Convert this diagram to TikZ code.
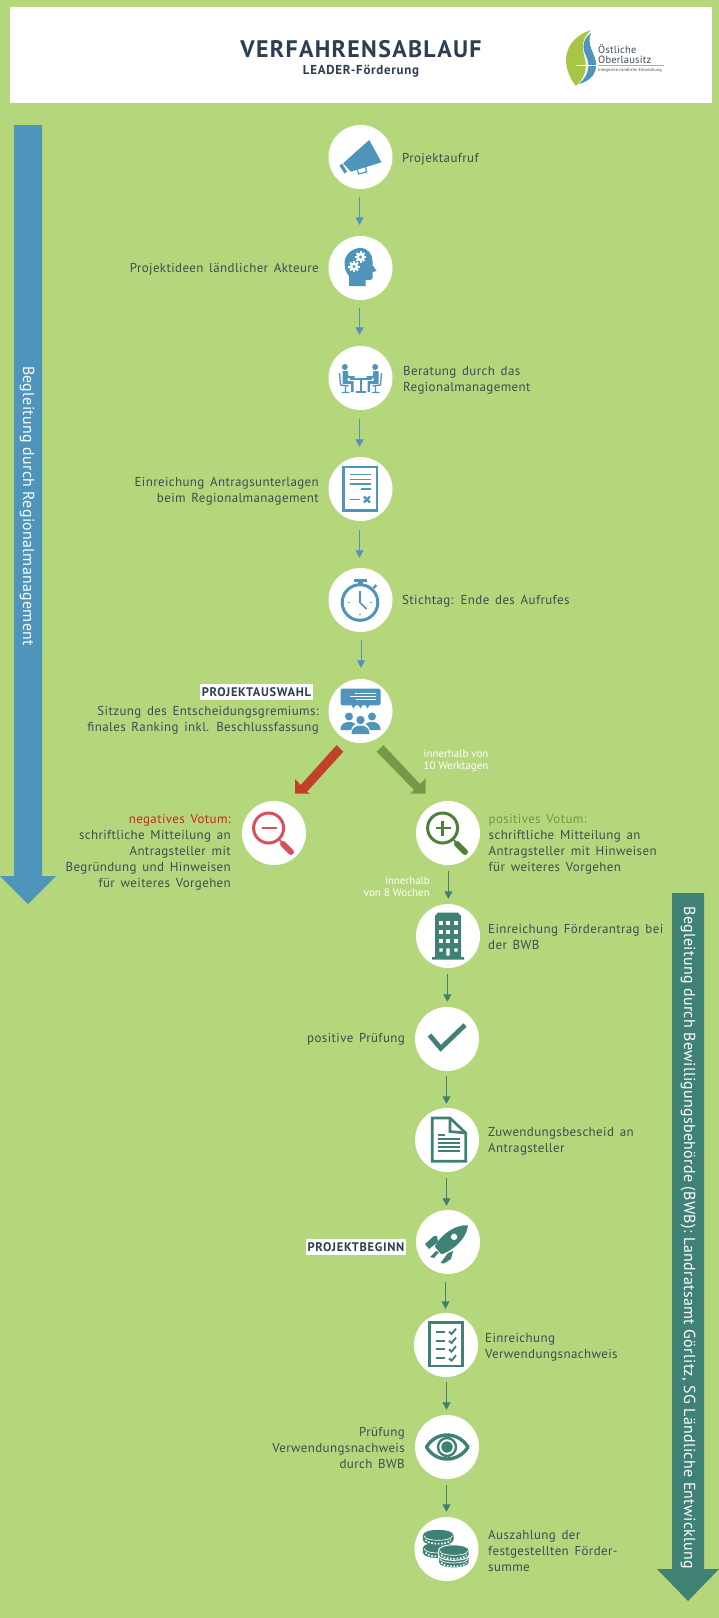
\documentclass[tikz,border=0pt]{standalone}
\usepackage{fontspec}
\setmainfont{PT Sans}
\newfontfamily\bodyf[WordSpace=1.5,LetterSpace=3]{PT Sans}
\newfontfamily\sidef[LetterSpace=2]{PT Sans}
\newfontfamily\titlef[LetterSpace=5.5]{PT Sans}
\newfontfamily\logof[LetterSpace=2]{PT Sans}
\usetikzlibrary{arrows.meta}
\definecolor{bg}{HTML}{B5D77B}
\definecolor{bluec}{HTML}{4F94BA}
\definecolor{tealc}{HTML}{3F8275}
\definecolor{txt}{HTML}{3E4B57}
\definecolor{navy}{HTML}{2C3E50}
\definecolor{redarrow}{HTML}{C0402A}
\definecolor{greenarrow}{HTML}{749A48}
\definecolor{redtxt}{HTML}{C8281E}
\definecolor{greentxt}{HTML}{6E9A45}
\definecolor{redicon}{HTML}{D9505A}
\definecolor{greenicon}{HTML}{4F7F3A}
\definecolor{leaf}{HTML}{A8C545}
\newcommand{\bodyfont}{\bodyf\fontsize{13}{16}\selectfont}
\tikzset{
  x=1bp,y=-1bp,
  circ/.style={circle,fill=white,draw=none,minimum size=64bp,inner sep=0},
  lt/.style={anchor=west,align=left,inner sep=0,text=txt,font=\bodyfont},
  rt/.style={anchor=east,align=right,inner sep=0,text=txt,font=\bodyfont},
  mark box/.style={fill=white,inner sep=0,text=navy,font=\titlef\fontsize{12.5}{14}\selectfont\bfseries,anchor=center,minimum height=16bp},
  small/.style={inner sep=0,text=white,font=\fontsize{11}{12}\selectfont,align=left},
  flowb/.style={draw=bluec,line width=1bp,-{Triangle[length=7.5bp,width=8bp]}},
  flowt/.style={draw=tealc,line width=1bp,-{Triangle[length=7.5bp,width=8bp]}},
  sidetext/.style={rotate=-90,text=white,inner sep=0,font=\sidef\fontsize{16}{18}\selectfont},
}
\newcommand{\gearat}[2]{%
  \foreach \a in {0,45,...,315}{\draw[white,line width=2bp] (#1,#2) -- ++(\a:5.6);}
  \fill[white] (#1,#2) circle[radius=4.2];
  \fill[bluec] (#1,#2) circle[radius=1.6];}
\newcommand{\coinat}[3][]{%
  \path[fill=tealc,#1] (#2-15.3,#3) .. controls (#2-15.3,#3-7.3) and (#2+15.3,#3-7.3) .. (#2+15.3,#3) -- (#2+15.3,#3+4.5) .. controls (#2+15.3,#3+11.8) and (#2-15.3,#3+11.8) .. (#2-15.3,#3+4.5) -- cycle;
  \draw[white,line width=.7bp] (#2-14,#3+.5) .. controls (#2-14,#3+6.5) and (#2+14,#3+6.5) .. (#2+14,#3+.5);
  \draw[white,line width=1.6bp,dash pattern=on 1.6bp off 1.7bp] (#2-12.5,#3+4.5) .. controls (#2-11,#3+9.7) and (#2+11,#3+9.7) .. (#2+12.5,#3+4.5);}
\begin{document}
\begin{tikzpicture}
\useasboundingbox (0,0) rectangle (719,1618);
\fill[bg] (0,0) rectangle (719,1618);
% header
\node[fill=white,minimum width=702bp,minimum height=96bp,inner sep=0] (head) at (361,55) {};
\node[text=navy,inner sep=0,font=\titlef\fontsize{24}{28}\selectfont\bfseries] (title) at (361,49) {VERFAHRENSABLAUF};
\node[text=navy,inner sep=0,font=\titlef\fontsize{13}{14}\selectfont\bfseries] (subtitle) at (361,71) {LEADER-Förderung};
% logo
\fill[leaf] (591,30) .. controls (575,35) and (566,47) .. (566,60) .. controls (566,70) and (571,80) .. (576,86) .. controls (583,79) and (587,72) .. (585.5,62) .. controls (584,52) and (578,42) .. (591,30) -- cycle;
\fill[bluec] (591,33) .. controls (582,40) and (582,48) .. (586,56) .. controls (590,64) and (590,74) .. (579,84) .. controls (590,81) and (597,74) .. (596,63) .. controls (595,53) and (586,45) .. (591,33) -- cycle;
\draw[white,line width=.6bp] (576,65) -- (598,65);
\draw[leaf,line width=.7bp] (598,65.3) -- (664,65.3);
\node[anchor=west,inner sep=0,text=txt,font=\logof\fontsize{10.5}{10}\selectfont] (logoa) at (598,49.5) {Östliche};
\node[anchor=west,inner sep=0,text=txt,font=\logof\fontsize{10.5}{10}\selectfont] (logob) at (598,60) {Oberlausitz};
\node[anchor=west,inner sep=0,text=txt,font=\fontsize{4.4}{5}\selectfont] (logoc) at (598,70) {Integrierte Ländliche Entwicklung};
% side arrows
\fill[bluec] (14,125) -- (42,125) -- (42,876) -- (56,876) -- (28,904) -- (0,876) -- (14,876) -- cycle;
\node[sidetext] (lefttxt) at (27,506) {Begleitung durch Regionalmanagement};
\fill[tealc] (672,893) -- (704,893) -- (704,1569) -- (719,1569) -- (688,1601) -- (657,1569) -- (672,1569) -- cycle;
\node[sidetext] (righttxt) at (688,1238) {Begleitung durch Bewilligungsbehörde (BWB): Landratsamt Görlitz, SG Ländliche Entwicklung};
% circles
\node[circ] (c1) at (360.5,157) {};
\node[circ] (c2) at (360.5,268) {};
\node[circ] (c3) at (360.5,378) {};
\node[circ] (c4) at (360.5,489) {};
\node[circ] (c5) at (360.5,600) {};
\node[circ] (c6) at (360.5,711) {};
\node[circ] (c7) at (274,833) {};
\node[circ] (c8) at (448,833) {};
\node[circ] (c9) at (448,936) {};
\node[circ] (c10) at (447,1039) {};
\node[circ] (c11) at (447,1140) {};
\node[circ] (c12) at (448,1242) {};
\node[circ] (c13) at (446,1345) {};
\node[circ] (c14) at (447,1447) {};
\node[circ] (c15) at (446.5,1549) {};
% connectors
\foreach \p/\q/\dx/\sa/\sb in {c1/c2/-1/8/11,c2/c3/-1/8/11,c3/c4/-1/9/10,c4/c5/-1/9/10,c5/c6/.5/8/11}
  \draw[flowb,shorten <=\sa bp,shorten >=\sb bp] ([xshift=\dx bp]\p.south) -- ([xshift=\dx bp]\p.south |- \q.north);
\foreach \p/\q/\dx/\sa/\sb in {c8/c9/.4/6/5,c9/c10/-.7/6/5,c10/c11/-.5/5/4,c11/c12/-.5/6/4,c12/c13/-2.5/8/4,c13/c14/.5/5/5,c14/c15/-.5/5.5/5}
  \draw[flowt,shorten <=\sa bp,shorten >=\sb bp] ([xshift=\dx bp]\p.south) -- ([xshift=\dx bp]\p.south |- \q.north);
% diagonal arrows
\fill[redarrow] (336.7,745) -- (343.3,751.7) -- (307,791.7) -- (310,793.7) -- (295,793.7) -- (295,779) -- (300.7,785) -- cycle;
\fill[greenarrow] (383.3,745) -- (376.7,751.7) -- (414,790) -- (410,793.7) -- (425.7,793.7) -- (425.7,778.3) -- (420,784) -- cycle;
% icons
\begin{scope}[shift={(c1)}]
  \fill[bluec] (8.7,-17) -- (21,5.3) -- (-9.6,14.7) -- (-17.4,6.3) -- cycle;
  \fill[bluec] (-21,8.7) -- (-18.5,6.5) -- (-13.5,14.5) -- (-16,16.5) -- cycle;
  \draw[bluec,line width=1.2bp] (-3,13) -- (-2,17) -- (6,15) -- (5,10);
\end{scope}
\begin{scope}[shift={(c2)}]
  \fill[bluec] (-11.5,18) -- (-11.5,8) .. controls (-16,3) and (-16,-3) .. (-16,-6) .. controls (-15,-15) and (-7,-20) .. (0,-20) .. controls (8,-20) and (12,-13) .. (12,-7) -- (12,-3) -- (16,3) -- (12,4) -- (12,10) .. controls (12,12) and (9,12) .. (5,12) -- (5,18) -- cycle;
  \gearat{0}{-11}
  \gearat{-6.5}{-1.5}
\end{scope}
\begin{scope}[shift={(c3)},bluec]
  \fill (-15.7,-11) circle[radius=3];
  \fill (14.7,-11) circle[radius=3];
  \fill (-18,-7) -- (-13,-7) -- (-12,-2) -- (-6,-2) -- (-6,0) -- (-13,0) -- (-13,3) -- (-7,3) -- (-7,14) -- (-9.5,14) -- (-9.5,6) -- (-18,6) -- cycle;
  \fill (18,-7) -- (13,-7) -- (12,-2) -- (6,-2) -- (6,0) -- (13,0) -- (13,3) -- (7,3) -- (7,14) -- (9.5,14) -- (9.5,6) -- (18,6) -- cycle;
  \fill (-11,-0.5) rectangle (11,1.5);
  \fill (-1,1.5) rectangle (1,13);
  \fill (-5,13) rectangle (5,14.5);
  \draw[line width=1.3bp] (-21,-5) -- (-20,7) -- (-12,8) (-15,8) -- (-15,14) (-19,14.5) -- (-11,14.5);
  \draw[line width=1.3bp] (21,-5) -- (20,7) -- (12,8) (15,8) -- (15,14) (19,14.5) -- (11,14.5);
\end{scope}
\begin{scope}[shift={(c4)},bluec]
  \draw[line width=2.3bp] (-17,-22) rectangle (16.5,21.5);
  \draw[line width=1.7bp] (-11,-14.5) -- (10,-14.5) (-11,-9.5) -- (10,-9.5) (-11,-5) -- (10,-5) (0,0) -- (10,0) (-11,10.5) -- (-1,10.5);
  \draw[line width=2.2bp] (3.5,7.5) -- (9.5,13.5) (9.5,7.5) -- (3.5,13.5);
\end{scope}
\begin{scope}[shift={(c5)},bluec]
  \draw[line width=3bp] (-0.5,2.5) circle[radius=17.8];
  \fill (-7,-21) rectangle (6.5,-18.5);
  \fill (-3,-18.5) rectangle (2,-15);
  \draw[line width=2.2bp] (13,-12) -- (16,-15);
  \draw[line width=1.6bp] (-0.5,-9) -- (-0.5,2.5) -- (6,9);
  \fill (-11.5,2.5) circle[radius=.9] (10.5,2.5) circle[radius=.9] (-.5,14.5) circle[radius=.9];
\end{scope}
\begin{scope}[shift={(c6)},bluec]
  \fill[rounded corners=1.5bp] (-20,-22.3) rectangle (20,-5.7);
  \fill (-9,-6) -- (-5,-6) -- (-7,-2.5) -- cycle (-2,-6) -- (2,-6) -- (0,-2.5) -- cycle (5,-6) -- (9,-6) -- (7,-2.5) -- cycle;
  \draw[white,line width=.7bp] (-6,-17.5) -- (15,-17.5) (-11,-14.5) -- (15,-14.5) (-5,-11.5) -- (15,-11.5);
  \fill (-11.5,5.5) circle[radius=4] (11.5,5.5) circle[radius=4] (0,9) circle[radius=4.2];
  \fill (-20,19) .. controls (-20,12) and (-15,11) .. (-11.5,11) .. controls (-8,11) and (-6,12) .. (-5,13) .. controls (-8,15) and (-9,17) .. (-9.5,19) -- cycle;
  \fill (20,19) .. controls (20,12) and (15,11) .. (11.5,11) .. controls (8,11) and (6,12) .. (5,13) .. controls (8,15) and (9,17) .. (9.5,19) -- cycle;
  \fill (-9,23) .. controls (-9,17) and (-5,14.5) .. (0,14.5) .. controls (5,14.5) and (9,17) .. (9,23) -- cycle;
\end{scope}
\begin{scope}[shift={(c7)}]
  \draw[redicon,line width=3bp] (-5.4,-5) circle[radius=15];
  \draw[redicon,line width=2.7bp] (-12.5,-5) -- (2.5,-5);
  \draw[redicon,line width=1.6bp] (5,6) -- (8,9.5);
  \draw[redicon,line width=6bp,line cap=round] (9,11) -- (17,19);
\end{scope}
\begin{scope}[shift={(c8)}]
  \draw[greenicon,line width=3bp] (-5.4,-5) circle[radius=15];
  \draw[greenicon,line width=2.7bp] (-12.5,-5) -- (2.5,-5) (-5.4,-12.5) -- (-5.4,2.5);
  \draw[greenicon,line width=1.6bp] (5,6) -- (8,9.5);
  \draw[greenicon,line width=6bp,line cap=round] (9,11) -- (17,19);
\end{scope}
\begin{scope}[shift={(c9)},tealc]
  \fill (-13,-20) -- (-10,-23.5) -- (10,-23.5) -- (13,-20) -- (13,21) -- (16,21) -- (16,23.5) -- (-16,23.5) -- (-16,21) -- (-13,21) -- cycle;
  \foreach \yy in {-13,-4,5}
    \foreach \xx in {-7,0,8}
      \fill[white] (\xx-1.7,\yy-1.7) rectangle (\xx+1.7,\yy+1.7);
  \fill[white] (-8.7,12.3) rectangle (-5.3,15.7) (6.3,12.3) rectangle (9.7,15.7) (-1.7,12.3) rectangle (1.7,19.5);
\end{scope}
\begin{scope}[shift={(c10)}]
  \draw[tealc,line width=4.7bp] (-17.5,-4) -- (-6.3,9.3) -- (18,-14);
\end{scope}
\begin{scope}[shift={(c11)},tealc]
  \draw[line width=2.7bp,line join=miter] (-14.7,-22) -- (3,-22) -- (18.7,-7) -- (18.7,21.3) -- (-14.7,21.3) -- cycle;
  \draw[line width=2.7bp] (3,-22) -- (3,-8.5) -- (18.7,-7);
  \draw[line width=1.7bp] (-8.7,-5.3) -- (-2,-5.3) (-8.7,-1.3) -- (13,-1.3) (-8.7,3) -- (13,3) (-8.7,7) -- (13,7) (-8.7,11.3) -- (13,11.3);
\end{scope}
\begin{scope}[shift={(c12)},tealc]
  \begin{scope}[rotate=-50]
    \fill (0,-26) .. controls (6,-20) and (8.5,-10) .. (8,0) .. controls (7.5,7) and (6,11) .. (5,13) -- (-5,13) .. controls (-6,11) and (-7.5,7) .. (-8,0) .. controls (-8.5,-10) and (-6,-20) .. (0,-26) -- cycle;
    \fill[white] (0,-8) circle[radius=3.2];
  \end{scope}
  \fill (-23,2) -- (-14,-6) -- (-11,-6) -- (-10,0) -- (-19,7) -- cycle;
  \fill (-7.5,21) -- (0,11) -- (5,9) -- (3,17) -- (-4,21.5) -- cycle;
  \fill[line join=round] (-18,15) -- (-12,9) -- (-9,10) -- (-14,16) -- cycle;
\end{scope}
\begin{scope}[shift={(c13)},tealc]
  \draw[line width=2.7bp] (-16.5,-22.3) rectangle (16.7,21);
  \draw[line width=1.7bp] (-10,-13.3) -- (-1,-13.3) (-10,-4.3) -- (-1,-4.3) (-10,4.3) -- (-1,4.3) (-10,13.3) -- (-1,13.3);
  \foreach \yy in {-13.3,-4.3,4.3,13.3}
    \draw[line width=1.9bp] (3,\yy) -- (5.5,\yy+2.3) -- (10,\yy-3);
\end{scope}
\begin{scope}[shift={(c14)},tealc]
  \draw[line width=3.4bp,line join=round] (-20.5,0) .. controls (-11,-16) and (11,-16) .. (21,0) .. controls (11,16) and (-11,16) .. (-20.5,0) -- cycle;
  \draw[line width=2.4bp] (0,0) circle[radius=9];
  \fill (0,0) circle[radius=5.7];
\end{scope}
\begin{scope}[shift={(c15)}]
  \coinat{-8.3}{-1}
  \coinat{-8.3}{-13.7}
  \coinat[draw=white,line width=1bp]{7.3}{9}
  \coinat[draw=white,line width=1bp]{7.3}{1.3}
\end{scope}
% labels
\node[lt] (t1) at (402,159) {Projektaufruf};
\node[rt] (t2) at (319,269) {Projektideen ländlicher Akteure};
\node[lt] (t3) at (403,380) {Beratung durch das\\Regionalmanagement};
\node[rt] (t4) at (319,491) {Einreichung Antragsunterlagen\\beim Regionalmanagement};
\node[lt] (t5) at (402,601) {Stichtag: Ende des Aufrufes};
\node[mark box,minimum width=113bp] (t6a) at (256.5,692) {PROJEKTAUSWAHL};
\node[rt] (t6) at (319,720.5) {Sitzung des Entscheidungsgremiums:\\finales Ranking inkl. Beschlussfassung};
\node[small,anchor=west] (d1) at (423.5,761) {innerhalb von\\10 Werktagen};
\node[rt] (t7) at (231,852) {\textcolor{redtxt}{negatives Votum:}\\schriftliche Mitteilung an\\Antragsteller mit\\Begründung und Hinweisen\\für weiteres Vorgehen};
\node[lt] (t8) at (488.5,844) {\textcolor{greentxt}{positives Votum:}\\schriftliche Mitteilung an\\Antragsteller mit Hinweisen\\für weiteres Vorgehen};
\node[small,anchor=east,align=right] (d2) at (430,887) {innerhalb\\von 8 Wochen};
\node[lt] (t9) at (488,937) {Einreichung Förderantrag bei\\der BWB};
\node[rt] (t10) at (405,1039) {positive Prüfung};
\node[lt] (t11) at (488,1141) {Zuwendungsbescheid an\\Antragsteller};
\node[mark box,minimum width=100bp] (t12) at (356,1247) {PROJEKTBEGINN};
\node[lt] (t13) at (485,1347) {Einreichung\\Verwendungsnachweis};
\node[rt] (t14) at (405,1448) {Prüfung\\Verwendungsnachweis\\durch BWB};
\node[lt] (t15) at (488,1551) {Auszahlung der\\festgestellten Förder-\\summe};
\end{tikzpicture}
\end{document}
